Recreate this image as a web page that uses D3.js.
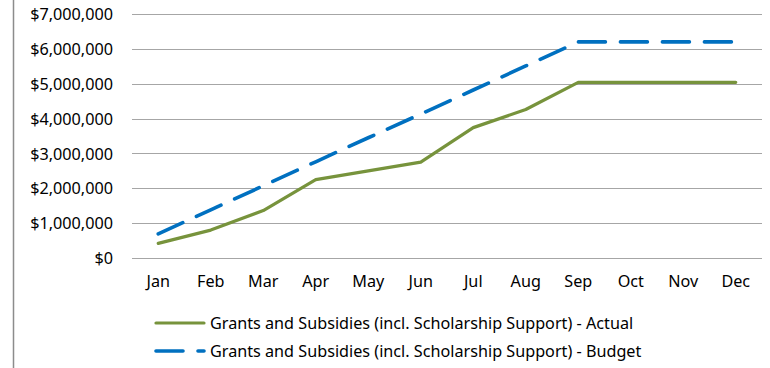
<!DOCTYPE html>
<html>
<head>
<meta charset="utf-8">
<script src="https://cdn.jsdelivr.net/npm/d3@7"></script>
<style>
  html, body { margin: 0; padding: 0; background: #fff; }
  svg { display: block; }
  text { font-family: "Noto Sans", "Open Sans", sans-serif; fill: #000; }
</style>
</head>
<body>
<svg id="chart" width="770" height="368"></svg>
<script>
// Monthly cumulative grants and subsidies (incl. scholarship support)
const months = ["Jan", "Feb", "Mar", "Apr", "May", "Jun", "Jul", "Aug", "Sep", "Oct", "Nov", "Dec"];
const actualValues = [420000, 800000, 1360000, 2250000, 2500000, 2750000, 3740000, 4260000, 5040000, 5040000, 5040000, 5040000];
const budgetValues = [690000, 1380000, 2070000, 2760000, 3450000, 4130000, 4820000, 5510000, 6200000, 6200000, 6200000, 6200000];
const yTicks = [0, 1000000, 2000000, 3000000, 4000000, 5000000, 6000000, 7000000];
const seriesNames = [
  "Grants and Subsidies (incl. Scholarship Support) - Actual",
  "Grants and Subsidies (incl. Scholarship Support) - Budget"
];

const svg = d3.select("#chart");
const plot = { left: 132, right: 762, top: 14, bottom: 258 };
const fontSize = "16.2px";

const x = d3.scaleBand().domain(months).range([plot.left, plot.right]);
const y = d3.scaleLinear().domain([0, 7000000]).range([plot.bottom, plot.top]);
const fmt = v => "$" + d3.format(",")(v);

// left frame edge
svg.append("line")
  .attr("x1", 13.5).attr("x2", 13.5).attr("y1", 0).attr("y2", 368)
  .attr("stroke", "#8c8c8c").attr("stroke-width", 1.5);

// horizontal gridlines
svg.append("g").selectAll("line").data(yTicks).join("line")
  .attr("x1", plot.left).attr("x2", plot.right)
  .attr("y1", d => Math.round(y(d)) + 0.5).attr("y2", d => Math.round(y(d)) + 0.5)
  .attr("stroke", "#a6a6a6").attr("stroke-width", 1.2);

// y axis labels
const yAxis = svg.append("g")
  .attr("transform", `translate(${plot.left},0)`)
  .call(d3.axisLeft(y).tickValues(yTicks).tickFormat(fmt).tickSize(0).tickPadding(19));
yAxis.select(".domain").remove();
yAxis.selectAll("text").style("font-size", fontSize).attr("fill", "#000").attr("dy", "0.35em");

// x axis labels
const xAxis = svg.append("g")
  .attr("transform", `translate(0,${plot.bottom})`)
  .call(d3.axisBottom(x).tickSize(0).tickPadding(17));
xAxis.select(".domain").remove();
xAxis.selectAll("text").style("font-size", fontSize).attr("fill", "#000");

const cx = d => x(d) + x.bandwidth() / 2;
const line = d3.line().x(d => cx(d.m)).y(d => y(d.v));

const actual = months.map((m, i) => ({ m, v: actualValues[i] }));
const budget = months.map((m, i) => ({ m, v: budgetValues[i] }));

svg.append("path").datum(actual).attr("d", line)
  .attr("fill", "none").attr("stroke", "#77933c").attr("stroke-width", 3.2)
  .attr("stroke-linejoin", "round").attr("stroke-linecap", "round");

svg.append("path").datum(budget).attr("d", line)
  .attr("fill", "none").attr("stroke", "#0070c0").attr("stroke-width", 3.6)
  .attr("stroke-dasharray", "27 15").attr("stroke-linecap", "round");

// legend
const legend = svg.append("g");
const rows = [
  { name: seriesNames[0], color: "#77933c", dash: null, w: 3.2, y: 323 },
  { name: seriesNames[1], color: "#0070c0", dash: "27 15", w: 3.6, y: 351 }
];
rows.forEach(r => {
  legend.append("line")
    .attr("x1", 156).attr("x2", 204).attr("y1", r.y).attr("y2", r.y)
    .attr("stroke", r.color).attr("stroke-width", r.w)
    .attr("stroke-dasharray", r.dash).attr("stroke-linecap", "round");
  legend.append("text")
    .attr("x", 210).attr("y", r.y).attr("dy", "0.35em")
    .style("font-size", fontSize)
    .text(r.name);
});
</script>
</body>
</html>
